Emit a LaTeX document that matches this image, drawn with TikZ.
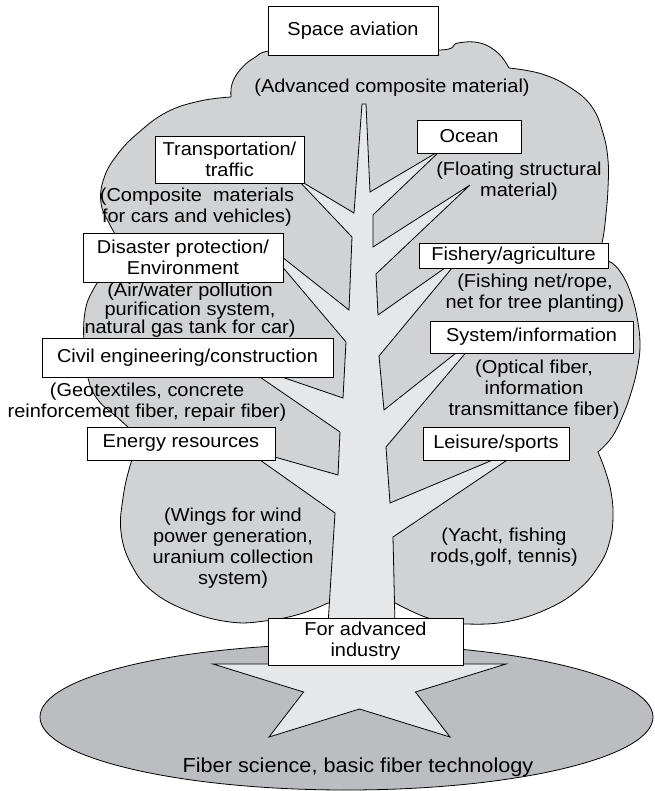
\documentclass[tikz,border=0pt]{standalone}
\usepackage{fontspec}
\setmainfont{Liberation Sans}[FakeStretch=1.07]
\definecolor{crowngray}{RGB}{209,210,212}
\definecolor{woodgray}{RGB}{230,231,232}
\definecolor{soilgray}{RGB}{188,189,192}

\begin{document}
\begin{tikzpicture}[x=0.75pt, y=-0.75pt, line width=0.6pt,
    font=\fontsize{14}{15.75}\selectfont,
    field/.style={draw, fill=white, inner sep=0pt, align=center},
    note/.style={inner sep=0pt, align=center}]
    \useasboundingbox (0,0) rectangle (654,791);
    % ground and root star
    \draw[fill=soilgray] (346.5,717) ellipse [x radius=306.5, y radius=73];
    \draw[fill=woodgray] (359.5,619) -- (394,664) -- (506,664) -- (415.4,692)
        -- (450,737) -- (359.5,709) -- (269,737) -- (303.6,692) -- (213,664)
        -- (325,664) -- cycle;
    % crown
    \draw[fill=crowngray]
        plot[smooth, tension=0.7] coordinates {(328,603) (300,614) (265,621)
            (230,622) (188,611) (152,591) (131,564) (121,532) (123,498)
            (130,466) (140,438)}
        -- plot[smooth, tension=0.7] coordinates {(140,438) (118,418) (98,400)
            (88,378) (84,345) (85,312) (93,290) (108,268) (122,245)}
        -- plot[smooth, tension=0.7] coordinates {(122,245) (110,225) (101,203)
            (104,178) (117,155) (138,133) (167,112) (200,101) (231,97)}
        -- plot[smooth, tension=0.7] coordinates {(231,97) (232,84) (240,70)
            (254,58) (275,50) (350,44) (438,50) (458,43) (480,43) (498,53)
            (509,68)}
        -- plot[smooth, tension=0.7] coordinates {(509,68) (542,74) (571,88)
            (592,107) (603,133) (608,160) (608,188) (606,214) (603,238)
            (598,258)}
        -- plot[smooth, tension=0.7] coordinates {(598,258) (612,263) (623,276)
            (631,294) (637,317) (640,345) (637,370) (631,393) (623,415)
            (612,437) (598,452)}
        -- plot[smooth, tension=0.7] coordinates {(598,452) (605,470) (611,492)
            (613,516) (610,540) (600,564) (578,590) (545,610) (505,622)
            (465,624) (440,621) (420,615) (395,603)}
        -- cycle;
    % trunk and branches
    \draw[fill=woodgray] (328,625) -- (335,513) -- (243,448) -- (338,475)
        -- (340,432) -- (238,362) -- (343,398) -- (346,342) -- (258,238)
        -- (349,310) -- (352,237) -- (297,179) -- (354,213) -- (362,104)
        -- (366,104) -- (370,192) -- (441,150) -- (373,215) -- (373,247)
        -- (470,185) -- (376,274) -- (378,315) -- (462,256) -- (379,356)
        -- (384,410) -- (485,330) -- (386,447) -- (390,503) -- (531,444)
        -- (393,537) -- (395,625) -- cycle;
    % fields and their uses
    \node[field, minimum width=127.5pt, minimum height=36.75pt] (space) at (353,30.5) {Space aviation};
    \node[note] (spacenote) at (392,88) {(Advanced composite material)};
    \node[field, minimum width=78pt, minimum height=24.75pt] (ocean) at (469,136.5) {Ocean};
    \node[note] (oceannote) at (519,181.5) {(Floating structural\\material)};
    \node[field, minimum width=111.75pt, minimum height=35.25pt] (traffic) at (229.5,159.5) {Transportation/\\traffic};
    \node[note] (trafficnote) at (197,207) {(Composite\ \ materials\\for cars and vehicles)};
    \node[field, minimum width=150pt, minimum height=36.75pt] (disaster) at (183,257.5) {Disaster protection/\\Environment};
    \node[note, font=\fontsize{14}{13.9}\selectfont] (disasternote) at (190,310.5)
        {(Air/water pollution\\purification system,\\natural gas tank for car)};
    \node[field, minimum width=218.25pt, minimum height=29.25pt] (civil) at (187.5,357.5) {Civil engineering/construction};
    \node[note] (civilnote) at (147,402.5) {(Geotextiles, concrete\\reinforcement fiber, repair fiber)};
    \node[field, minimum width=141pt, minimum height=24.75pt] (energy) at (181,443.5) {Energy resources};
    \node[note] (energynote) at (233,548.5) {(Wings for wind\\power generation,\\uranium collection\\system)};
    \node[field, minimum width=141.75pt, minimum height=18.75pt] (fishery) at (513.5,255.5) {Fishery/agriculture};
    \node[note] (fisherynote) at (535,293) {(Fishing net/rope,\\net for tree planting)};
    \node[field, minimum width=152.25pt, minimum height=24pt] (system) at (531.5,337) {System/information};
    \node[note] (systemnote) at (534,390) {(Optical fiber,\\information\\transmittance fiber)};
    \node[field, minimum width=109.5pt, minimum height=24.75pt] (leisure) at (496,443.5) {Leisure/sports};
    \node[note] (leisurenote) at (504,547) {(Yacht, fishing\\rods,golf, tennis)};
    \node[field, minimum width=146.25pt, minimum height=35.25pt] (industry) at (365.5,641.5) {For advanced\\industry};
    \node[note, font=\fontsize{15.2}{17}\selectfont] (basis) at (358,767) {Fiber science, basic fiber technology};
\end{tikzpicture}
\end{document}
